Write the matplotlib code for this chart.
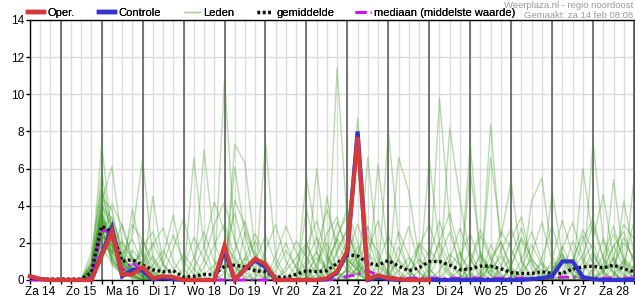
import numpy as np
import matplotlib
matplotlib.use("Agg")
import matplotlib.pyplot as plt
from matplotlib.lines import Line2D

plt.rcParams['font.family'] = ['Liberation Sans', 'DejaVu Sans']

# 6-hourly steps, hours after za 14 00:00
hours = np.arange(6, 361, 6)

day_labels = ["Za 14", "Zo 15", "Ma 16", "Di 17", "Wo 18", "Do 19", "Vr 20", "Za 21",
              "Zo 22", "Ma 23", "Di 24", "Wo 25", "Do 26", "Vr 27", "Za 28"]

# groups: rest of za 14 | then one group of 4 values per day | last value
oper = ("0.2 0.05 0 | 0 0 0 0 | 1.3 2.6 0.3 0.3 | 0.7 0.1 0.2 0.15 | 0 0 0 0 | 1.85 0 0.6 1.15 | "
        "0.85 0 0 0 | 0 0 0.1 0.45 | 1.6 7.7 0.05 0.25 | 0.1 0.05 0 0 | 0")
controle = ("0.2 0.05 0 | 0 0 0 0 | 1.4 2.8 0.2 0.55 | 0.5 0.05 0.1 0.05 | 0 0 0 0 | 1.6 0 0.6 1.05 | "
            "0.7 0 0 0 | 0 0 0.05 0.4 | 1.5 8.0 0 0.15 | 0.05 0 0 0 | 0 0 0 0 | 0 0 0 0 | "
            "0 0 0.05 0.1 | 0.2 1.0 1.0 0.15 | 0.05 0 0 0 | 0")
gemiddelde = ("0.1 0.05 0.05 | 0.05 0.05 0.05 0.4 | 2.9 2.6 1.0 1.1 | 0.8 0.55 0.45 0.5 | 0.15 0.2 0.3 0.3 | "
              "0.75 0.8 0.7 0.5 | 0.45 0.15 0.15 0.3 | 0.5 0.45 0.5 0.9 | 1.35 1.3 0.9 0.8 | "
              "1.05 0.75 0.5 0.65 | 1.0 1.0 0.8 0.55 | 0.6 0.75 0.75 0.6 | 0.4 0.35 0.35 0.45 | "
              "0.35 0.35 0.6 0.7 | 0.75 0.65 0.8 0.6 | 0.45")
mediaan = ("0 0 0 | 0 0 0 0.2 | 2.7 2.5 0.5 0.95 | 0.4 0.1 0.2 0.15 | 0 0 0 0 | 0 0 0 0 | 0 0 0 0 | "
           "0 0 0 0.05 | 0.2 0.3 0.5 0.25 | 0.15 0.1 0.1 0.1 | 0.1 0.1 0.1 0.1 | 0.1 0.1 0.1 0.1 | "
           "0.1 0.1 0.1 0.1 | 0.1 0.15 0.15 0.1 | 0.1 0.1 0.1 0.1 | 0.1")

leden = [
    "0.1 0 0 | 0 0 0 0.6 | 7.3 2.4 0.8 0.5 | 0.3 0.1 0 0 | 0 0 0 0 | 0 0.4 1.2 0.6 | 0 0 0 0.3 | 0.8 1.5 0.6 0.2 | 0.5 0.3 0 0 | 0 0 0.4 1.1 | 0.6 0 0 0 | 0 0.2 0.8 0.3 | 0 0 0 0 | 0.5 1.8 0.6 0 | 0 0 0.2 1.0 | 0.4",
    "0.2 0 0 | 0 0 0 0.3 | 4.2 6.1 2.0 1.1 | 0.6 0.2 0.1 0 | 0 0 0 0.3 | 10.8 2.1 0.4 0 | 0 0 0 0 | 0 0.3 0.9 2.2 | 1.4 0.6 0.2 0 | 0 0 0 0 | 0.3 1.2 2.6 0.8 | 0 0 0 0 | 0.6 0.2 0 0 | 0 0 0 0.4 | 1.3 0.5 0 0 | 0",
    "0 0 0 | 0 0 0 1.2 | 3.1 1.8 0.6 2.5 | 6.5 1.2 0.3 0 | 0 0 0 0 | 0 0 0 0.5 | 0.9 0.2 0 0 | 0 0 0.4 1.6 | 2.8 1.0 0.3 0 | 0 0.5 1.2 0.4 | 0 0 0 0 | 0.8 2.4 1.1 0 | 0 0 0.3 0.9 | 0.2 0 0 0 | 0 0.6 1.9 0.7 | 0",
    "0 0.1 0 | 0 0 0 0.2 | 2.6 3.4 1.5 0.4 | 0.2 4.5 0.8 0 | 0 0 0 0 | 0 7.3 6.3 1.5 | 0.4 0 0 0 | 0 0 0 0 | 0.6 1.8 0.5 0 | 0 0 0 0 | 0 0 0.7 1.5 | 0.4 0 0 0 | 0 0 0 0 | 0 0.3 1.1 2.4 | 0.8 0 0 0 | 0",
    "0 0 0 | 0 0 0 0.8 | 5.2 2.0 0.9 0.3 | 0 0.5 1.3 3.5 | 0.6 0 0 0 | 0 0 0 0 | 0 0 0.5 1.2 | 2.0 0.7 0 11.4 | 3.0 0.8 0.2 0 | 0 0 0 0 | 0 0 0 0 | 0 0 0.9 2.1 | 0.5 0 0 0 | 0 0 0 0.6 | 1.5 0.3 0 0 | 0.3",
    "0.1 0 0 | 0 0 0 0.4 | 3.8 1.2 0.3 0.1 | 0 0 0 0 | 0 6.55 1.8 0.3 | 0 0 0 0 | 0 0 0 0 | 0.4 1.2 0.5 0 | 0 8.7 2.2 0.7 | 0.2 0 0 0 | 0 0 0 0 | 0 0 0.5 1.3 | 0.3 0 0 0 | 0 0 0 0 | 0 0.4 1.2 0.3 | 0",
    "0 0 0 | 0 0 0 0.1 | 2.1 2.8 0.6 0.2 | 0.1 0 0 0 | 0 0 7.0 2.0 | 0.6 0 0 0 | 0 0 0 0.8 | 1.9 0.6 0 0 | 0 0 6.6 1.2 | 0.4 0 0 0 | 0 0 0 0 | 7.3 1.2 0.3 0 | 0 0 0 0 | 0 0 0 0 | 0 0 0.7 2.0 | 1.2",
    "0 0 0 | 0 0 0 0.5 | 4.6 0.8 0.3 0.8 | 1.4 0.5 0.1 0 | 0 0 0 0 | 0 6.1 2.4 0.5 | 0 0 0 0 | 0 0 0 0.6 | 1.1 0.5 0 6.2 | 1.4 0.3 0 0 | 0 0 0 0.6 | 1.5 0.4 0 0 | 0 0 0 0.3 | 0.8 0.2 0 0 | 0 0 0 0 | 0",
    "0 0 0 | 0 0 0 0.9 | 3.3 2.6 1.0 0.6 | 0.3 0 0 0 | 0 0 0 0 | 0 0 0 0 | 7.45 1.2 0.2 0 | 0 0 0 0 | 0 0 0 0 | 8.0 2.3 0.5 0 | 0 0 0 0 | 0 0 0 0 | 0 0.4 1.1 0.5 | 0 0 0 0 | 0 0 0 0 | 5.5",
    "0.3 0 0 | 0 0 0 0.2 | 2.2 4.1 2.9 1.0 | 0.4 0.2 0 0 | 0 0 0 0 | 0 0 0 0 | 0 0 0 0 | 5.5 2.2 0.3 0 | 0 0.4 0.9 0.3 | 0 0 0 0 | 0.2 0 0 0 | 0 0 8.4 1.5 | 0.3 0 0 0 | 0 0 0 0 | 0 0 0.3 1.1 | 0.5",
    "0 0 0 | 0 0 0 0.6 | 3.6 1.5 0.4 3.8 | 1.2 0.3 0 0 | 0 0 0 0 | 0 0 0 0 | 0 0 0 0 | 0 6.0 1.4 0.3 | 0 0 0 0 | 0 0 0 0 | 0 9.8 3.1 0.6 | 0 0 0 0 | 0 0 0 0 | 0 0 0 0 | 0 0 5.4 1.1 | 0",
    "0 0 0 | 0 0 0 1.5 | 4.9 2.2 0.7 0.2 | 0 0 0 0 | 0 0 0 0 | 0 0 0 0 | 0 0 0 0 | 0 0 4.5 1.3 | 0.5 0 0 0 | 0 6.6 4.75 1.2 | 0.3 0 0 0 | 0 0 0 0 | 0 0 4.25 5.5 | 1.3 0 0 0 | 0 0 0 0 | 0",
    "0 0 0 | 0 0 0 0.3 | 2.9 1.1 0.5 1.6 | 0.9 0.4 0.2 0 | 0 0 0 0 | 0 0 0 0 | 0 0 0 0 | 0 0 0 0 | 0 0 0 0 | 0 0 0 0 | 6.45 1.8 0.4 0 | 0 0 0 0 | 0 0 0 0 | 4.75 1.3 0.3 0 | 0 0 0 0 | 0",
    "0.1 0 0 | 0 0 0 0.7 | 3.9 3.0 1.2 0.5 | 0.2 0 0 0 | 0 0 0 0 | 0 0 0 0 | 0 0 0 0 | 0 0 0 0 | 0 0 0 0 | 0 0 0 0 | 0 0 8.2 4.3 | 1.2 0.2 0 0 | 0 0 0 0 | 0 0 0 0 | 7.45 2.1 0.4 0 | 0",
    "0 0 0 | 0 0 0 0.2 | 2.4 1.9 0.8 0.3 | 0 0 0 0 | 0 0 0 0 | 0 0 0 0 | 0 0 0 0 | 0 0 0 0 | 0 0 0 0 | 0 0 0 0 | 0 0 0 0 | 5.9 1.4 0.2 0 | 0 0 0 0 | 0 0 0 6.0 | 2.2 4.6 1.1 0.2 | 0",
    "0 0 0 | 0 0 0 0.4 | 3.0 2.1 1.4 2.2 | 0.8 0.1 0 0 | 0 0 0 0 | 0 0 0 0 | 0 0 0 0 | 0 0 0 0 | 0 0 0 0 | 0 0 0 0 | 0 0 0 0 | 0 0 6.6 2.3 | 5.3 1.0 0.2 0 | 0 0 0 0 | 0 0 0 4.25 | 1.4",
    "0 0 0 | 0 0 0 0.5 | 2.0 1.6 0.5 0.9 | 0.6 0.3 0.1 0 | 0 0 0.3 0.8 | 1.5 0.7 0.2 0 | 0 0 0 0.4 | 1.0 2.3 1.1 0.4 | 0.2 0.6 1.5 0.8 | 0.3 0 0 0.5 | 1.6 0.9 0.2 0 | 0 0.4 1.2 2.0 | 0.7 0.1 0 0 | 0.5 1.4 0.6 0 | 0 0.9 2.5 1.2 | 0.6",
    "0 0 0 | 0 0 0 0.3 | 3.5 1.3 0.6 0.4 | 1.8 2.6 0.9 0.2 | 0 0 0 0 | 0.4 1.6 3.2 1.1 | 0.2 0 0 0 | 0 0.7 2.5 3.4 | 1.2 0.4 0 0 | 0 0 0.8 1.9 | 0.6 0 0 0 | 0 0 0 0.5 | 1.2 2.8 0.9 0 | 0 0 0.6 1.3 | 3.0 1.1 0.3 0 | 0.2",
    "0 0 0 | 0 0 0 0.1 | 1.2 2.2 0.7 0.3 | 0.2 0.8 1.6 0.6 | 0 0 0 0 | 0 0 0.9 2.1 | 0.8 0.2 0 0 | 0 0 0 0 | 0.3 1.4 2.9 1.0 | 0.3 1.1 0.5 0 | 0 0 0 0 | 0.4 1.3 0.6 0.1 | 0 0 0 0 | 1.1 3.2 1.4 0.3 | 0 0 0 0 | 0.8",
    "0.2 0 0 | 0 0 0 0.4 | 2.7 1.0 0.4 0.2 | 0 0 0 0.5 | 1.4 0.6 0 0 | 0 0 0 0 | 0 0.5 1.6 0.7 | 0.2 0 0.8 2.4 | 3.5 1.2 0.3 0 | 0 0 0 0 | 0 0.5 1.4 0.8 | 0 0 0 0 | 0 0.6 1.9 0.8 | 0 0 0 0 | 0.4 1.3 2.9 0.9 | 0",
    "0 0 0 | 0 0 0 0.2 | 1.8 0.9 0.3 0.6 | 0.9 0.3 0 0 | 0 0 0 0 | 0 0 0 0 | 0 0 0 0 | 0.6 0 0 0.4 | 1.1 0.6 0.2 0 | 0 1.8 0.5 0 | 0 0 0 0 | 0 0 0 0 | 0.7 2.2 0.6 0 | 0 0 0 0 | 0 0 0 0 | 0",
    "0 0 0 | 0 0 0 1.0 | 5.8 2.5 1.1 0.3 | 0.1 0 0 0 | 0 0 0 0 | 0 0 0 0 | 0 0 0 0 | 0 0 0 0.9 | 2.1 0.8 0.3 0 | 0 0 0 0 | 0 0 0 0 | 0 0 0 0 | 0 0 0 0 | 0.5 1.4 0.3 0 | 0 0 0 0 | 0",
    "0 0 0 | 0 0 0 0.6 | 4.0 3.3 1.8 0.7 | 0.3 0 0 0 | 0 0 0 0 | 0 0 0 0 | 0 0 0 0 | 0 0 0 0 | 0.7 0.3 0 0 | 0 0 0 0 | 0 0 0 0 | 0 0 0 0 | 0 0 0 0 | 0 0 0 0 | 0 0 0 0 | 0",
    "0.1 0 0 | 0 0 0 0.3 | 2.5 2.9 1.0 0.4 | 0.5 1.3 0.4 0 | 0 0 0 0 | 0 0 0 0 | 0 0 0 0 | 0 0 0 0 | 0 0 0 0 | 0 0 0 0 | 0 0 0 0 | 0 0 0 0 | 0 0 0 0 | 0 0 0 0 | 0 0 0 0 | 0",
    "0 0 0 | 0 0 0 0.8 | 2.8 1.4 2.1 1.2 | 0.4 0 0 0 | 0 0.6 1.8 4.2 | 2.6 0.8 0 0 | 0 0 0 0 | 0 0 0 0 | 0 0 0 0 | 0 0 0 0 | 0 0 0 0 | 0 0 0 0 | 0 0 0 0 | 0 0 0 0 | 0 0 0 0 | 0",
    "0 0 0 | 0 0 0 0.5 | 3.2 2.0 0.6 0.2 | 0 0 0 0 | 0 0 0 0 | 0 4.3 2.9 1.3 | 0.5 0 0 0 | 0 0 0 0 | 0 0 0 0 | 0 0 0 0 | 0 0 0 0 | 0 0 0 0 | 0 0 0 0 | 0 0 0 0 | 0 0 0 0 | 0",
    "0 0 0 | 0 0 0 0.1 | 1.6 2.4 0.9 0.5 | 0.2 0 0 0 | 0 0 0 0 | 0 0 0 0 | 0 0 0 0 | 3.8 1.5 0.4 0 | 0 0 0 0 | 0 0 0 0 | 0 0 0 0 | 0 0 0 0 | 0 0 0 0 | 0 0 0 0 | 0 0 0 0 | 0",
    "0 0 0 | 0 0 0 0.4 | 3.4 1.7 0.5 0.1 | 0 0 0 0 | 0 0 0 0 | 0 0 0 0 | 0 0 0 0 | 0 0 0 0 | 0 0 0 0 | 0 0 0 0 | 0 0 0 0 | 0 0 0 0 | 0 0 0 0 | 0 0 0 0 | 0 0 0 0 | 0",
    "0 0 0 | 0 0 0 0.7 | 4.4 3.8 1.3 0.6 | 0.2 0 0 0 | 0 0 0 0 | 0 0 0 0 | 0 0 0 0 | 0 0 0 0 | 0 0 0 0 | 0 0 0 0 | 0 0 0 0 | 0 0 0 0 | 0 0 0 0 | 0 0 0 0 | 0 0 0 0 | 0",
    "0 0 0 | 0 0 0 0.2 | 2.3 1.2 0.4 0.2 | 0.1 0 0 0 | 0 0 0 0 | 0 0 0 0 | 0 0 0 0 | 0 0 0 0 | 0 0 0 0 | 0 0 0 0 | 0 0 0 0 | 0 0 0 0 | 0 0 0 0 | 0 0 0 0 | 0 0 0 0 | 0",
    "0 0 0 | 0 0 0 0.3 | 2.0 1.5 3.0 1.2 | 0.5 1.9 2.8 1.0 | 0.2 0 1.1 3.0 | 4.2 2.1 0.6 0 | 0 1.3 2.9 1.5 | 0.4 0 1.2 3.1 | 1.8 0.6 0 0.9 | 2.4 1.0 0.3 0 | 0.5 2.1 3.6 1.4 | 0.3 0 0.8 2.6 | 1.7 0.4 0 1.2 | 2.9 1.0 0.2 0 | 0.6 2.2 1.0 0 | 1.5",
    "0 0 0 | 0 0 0 0.5 | 3.1 2.3 0.9 0.4 | 2.2 1.0 0.3 1.7 | 3.3 1.2 0.2 0 | 1.4 3.6 1.5 0.3 | 0 0.8 2.0 0.6 | 0 1.6 3.8 2.0 | 0.9 0.2 1.5 3.2 | 1.1 0 0 1.8 | 3.0 1.2 0.3 0 | 1.0 2.7 1.3 0.2 | 0 0 1.4 3.1 | 1.0 0.3 2.1 1.0 | 0 0.5 1.8 2.6 | 0.9",
    "0 0 0 | 0 0 0 0.2 | 1.5 3.2 1.2 0.6 | 0.2 0 0.9 2.4 | 1.0 0.3 0 0 | 2.0 1.1 0 0 | 1.6 3.0 1.0 0.2 | 0 0 0.6 2.2 | 3.9 2.0 0.7 0 | 0.5 2.6 1.3 0.4 | 0 0 1.1 2.8 | 1.2 0 0 0.7 | 2.2 3.4 1.0 0 | 0 1.7 3.1 1.2 | 0.3 0 1.2 3.0 | 2.2",
    "0 0 0 | 0 0 0 0.9 | 3.7 2.0 0.5 0.3 | 0.9 2.0 0.8 0.2 | 0 1.2 2.6 1.0 | 0.4 0 1.2 2.5 | 1.1 0.3 0 0 | 1.8 3.2 1.3 0.4 | 0 0.7 2.4 1.5 | 0.3 0 0 2.0 | 1.3 3.2 1.1 0.3 | 0 1.5 0.5 0 | 0.8 2.3 1.2 0.3 | 0 0 0.9 2.7 | 1.6 0.4 0 0.8 | 3.2",
    "0 0 0 | 0 0 0 0.4 | 2.4 1.8 1.1 3.0 | 2.1 0.7 0.2 0 | 0 0 0.7 1.9 | 3.0 1.2 0.4 1.0 | 2.4 0.9 0 0 | 0 0.9 2.0 0.7 | 1.3 3.0 1.4 0.5 | 0 1.2 2.9 0.8 | 0 0 0 1.3 | 2.5 0.9 0.2 1.6 | 2.8 1.1 0 0 | 0.4 1.2 0.5 2.1 | 3.3 1.2 0.4 0 | 0",
    "0.1 0 0 | 0 0 0 0.6 | 2.8 1.0 0.4 0.8 | 1.6 0.5 0 0 | 0.6 2.3 1.1 0.2 | 0 0 2.6 1.2 | 0 0 0.7 2.1 | 1.2 0.3 0 1.5 | 2.7 0.9 0.2 0 | 1.4 0.5 0 0 | 0.7 2.0 0.9 0.2 | 0 0 1.9 0.8 | 0 1.1 2.6 1.0 | 0.2 0 0 1.0 | 2.0 0.6 0.8 2.3 | 1.0",
]


def parse(s):
    return [float(v) for v in s.replace('|', ' ').split()]


RED = '#d43a3a'
BLUE = '#3333cc'
GREEN = '#3a9a1f'
MAGENTA = '#cc11ff'
FS = 8

fig = plt.figure(figsize=(6.35, 3.0), dpi=100)
ax = fig.add_axes([30 / 635, 20 / 300, 604 / 635, 260 / 300])

# ensemble members
for m in leden:
    vals = parse(m)
    ax.plot(hours[:len(vals)], vals, color=GREEN, lw=1, alpha=0.35, zorder=2)

ax.plot(hours, parse(gemiddelde), color='#111111', lw=2.4, ls=(0, (0.8, 0.8)), zorder=4, clip_on=False)
ax.plot(hours, parse(mediaan), color=MAGENTA, lw=2.0, dashes=(4, 1.5, 0.8, 1.5), zorder=3, clip_on=False)
c = parse(controle)
ax.plot(hours[:len(c)], c, color=BLUE, lw=3, zorder=5, clip_on=False, solid_joinstyle='miter')
o = parse(oper)
ax.plot(hours[:len(o)], o, color=RED, lw=3, zorder=6, clip_on=False, solid_joinstyle='miter')

ax.set_xlim(6, 360)
ax.set_ylim(0, 14)

ax.set_yticks(np.arange(0, 15, 2))
ax.set_xticks(np.arange(12, 360, 24))
ax.set_xticklabels(day_labels)
ax.set_xticks(np.arange(6, 361, 6), minor=True)

ax.grid(which='both', axis='x', color='#dcdcdc', lw=1, zorder=0)
ax.grid(which='major', axis='y', color='#dcdcdc', lw=1, zorder=0)
for h in range(24, 361, 24):
    ax.axvline(h, color='#555555', lw=1.1, zorder=1)
ax.set_axisbelow(True)

ax.tick_params(axis='both', which='both', labelsize=FS + 0.5, colors='black', length=3, width=1, pad=1)
ax.tick_params(axis='x', which='major', length=0, pad=4)
for sp in ax.spines.values():
    sp.set_color('black')
    sp.set_linewidth(1)
ax.spines['right'].set_color('#555555')

# legend items placed one by one along the top
handles = [
    Line2D([], [], color=RED, lw=3.2),
    Line2D([], [], color=BLUE, lw=3.2),
    Line2D([], [], color='#a8d498', lw=1),
    Line2D([], [], color='#111111', lw=2.4, ls=(0, (0.8, 0.8))),
    Line2D([], [], color=MAGENTA, lw=2.0, dashes=(4, 1.5, 0.8, 1.5)),
]
labels = ['Oper.', 'Controle', 'Leden', 'gemiddelde', 'mediaan (middelste waarde)']
legend_x = [28, 99, 184, 257, 355]
for hd, lb, lx in zip(handles, labels, legend_x):
    lg = fig.legend([hd], [lb], loc='center left', bbox_to_anchor=(lx / 635, 1 - 13 / 300),
                    frameon=False, fontsize=FS, handlelength=1.45, handletextpad=0.3,
                    borderpad=0, borderaxespad=0)
    fig.add_artist(lg)

fig.text(633 / 635, 1 - 1 / 300, 'Weerplaza.nl - regio noordoost', ha='right', va='top',
         color='#9a9a9a', fontsize=6.8)
fig.text(633 / 635, 1 - 11 / 300, 'Gemaakt: za 14 feb 08:08', ha='right', va='top',
         color='#9a9a9a', fontsize=6.8)

fig.savefig('out.png', dpi=100)
